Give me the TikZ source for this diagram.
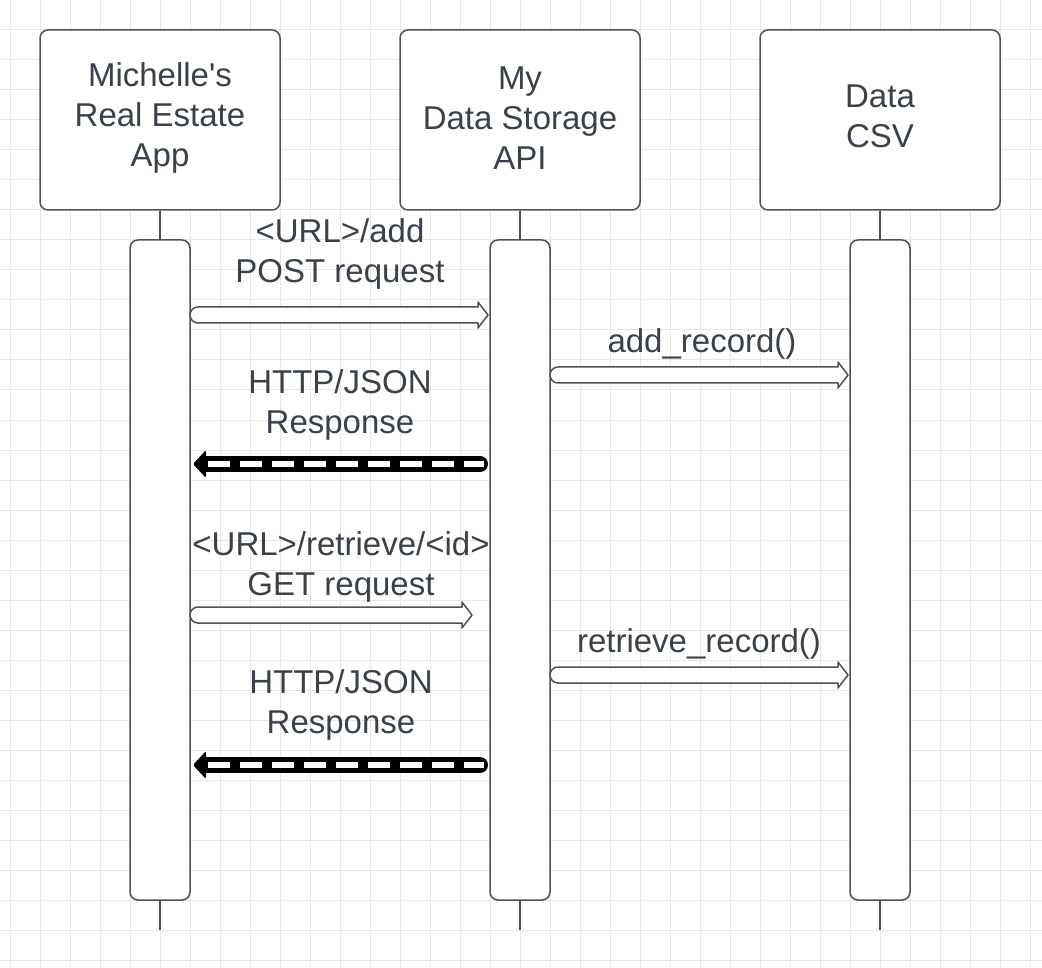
\documentclass[tikz,border=0pt]{standalone}
\usepackage{fontspec}
\setmainfont{Liberation Sans}
\usetikzlibrary{calc}
\definecolor{ln}{HTML}{4D5259}
\definecolor{txt}{HTML}{3A414A}
\definecolor{gridc}{HTML}{E6E6E6}
\tikzset{
  actor/.style={draw=ln, line width=1.5pt, fill=white, rounded corners=8pt,
    minimum width=240pt, minimum height=180pt},
  atext/.style={align=center, text=txt, font=\fontsize{33}{40}\selectfont, inner sep=0pt},
  bar/.style={draw=ln, line width=1.5pt, fill=white, rounded corners=8pt,
    minimum width=60pt, minimum height=660pt},
  life/.style={draw=ln, line width=1.5pt},
  lbl/.style={align=center, text=txt, font=\fontsize{33}{40}\selectfont, inner sep=0pt},
  harr/.style={draw=ln, line width=1.5pt, fill=white, line join=round},
}
\newcommand\harrow[2]{%
  \path[harr] let \p1=(#1), \p2=(#2) in
    (\x2-10pt,\y1+8pt) -- (\x2-10pt,\y1+13pt) -- (\x2,\y1) -- (\x2-10pt,\y1-13pt)
    -- (\x2-10pt,\y1-8pt) -- (\x1+8pt,\y1-8pt)
    arc[start angle=270,end angle=90,radius=8pt] -- cycle;}
\newcommand\darrow[2]{%
  \draw[black, line width=16pt, line cap=round] let \p1=(#1), \p2=(#2) in
    (\x1-8pt,\y1) -- (\x2+12pt,\y1);
  \draw[white, line width=6pt, dash pattern=on 22pt off 10pt] let \p1=(#1), \p2=(#2) in
    (\x2+15pt,\y1) -- (\x1-4pt,\y1);
  \fill[black, rounded corners=1.5pt] let \p1=(#1), \p2=(#2) in
    (\x2,\y1) -- (\x2+13pt,\y1+14pt) -- (\x2+13pt,\y1-14pt) -- cycle;}
\begin{document}
\begin{tikzpicture}[x=1pt,y=-1pt]
\fill[white] (0,0) rectangle (1042,968);
\useasboundingbox (0,0) rectangle (1042,968);
\foreach \gx in {10,40,...,1030} \draw[gridc, line width=1pt] (\gx,0) -- (\gx,968);
\foreach \gy in {0,30,...,960} \draw[gridc, line width=1pt] (0,\gy) -- (1042,\gy);

\node[actor] (a) at (160,120) {};
\node[actor] (b) at (520,120) {};
\node[actor] (c) at (880,120) {};
\node[atext] (at) at (160,118) {Michelle\textquotesingle s\\Real Estate\\App};
\node[atext] (bt) at (520,118) {My\\Data Storage\\API};
\node[atext] (ct) at (880,116) {Data\\CSV};

\node[bar] (ab) at (160,570) {};
\node[bar] (bb) at (520,570) {};
\node[bar] (cb) at (880,570) {};

\coordinate (ae) at (160,930);
\coordinate (be) at (520,930);
\coordinate (ce) at (880,930);
\draw[life] (a.south) -- (ab.north);
\draw[life] (b.south) -- (bb.north);
\draw[life] (c.south) -- (cb.north);
\draw[life] (ab.south) -- (ae);
\draw[life] (bb.south) -- (be);
\draw[life] (cb.south) -- (ce);

% message anchors
\coordinate (m1s) at (190,315); \coordinate (m1e) at (488,315);
\coordinate (m2s) at (550,375); \coordinate (m2e) at (848,375);
\coordinate (m3s) at (488,464); \coordinate (m3e) at (193,464);
\coordinate (m4s) at (190,615); \coordinate (m4e) at (472,615);
\coordinate (m5s) at (550,675); \coordinate (m5e) at (848,675);
\coordinate (m6s) at (488,765); \coordinate (m6e) at (193,765);

\harrow{m1s}{m1e}
\harrow{m2s}{m2e}
\darrow{m3s}{m3e}
\harrow{m4s}{m4e}
\harrow{m5s}{m5e}
\darrow{m6s}{m6e}

\node[lbl] (l1) at (340,254) {<URL>/add\\POST request};
\node[lbl] (l2) at (702,344) {add\_record()};
\node[lbl] (l3) at (340,405) {HTTP/JSON\\Response};
\node[lbl] (l4) at (341,567) {<URL>/retrieve/<id>\\GET request};
\node[lbl] (l5) at (699,644) {retrieve\_record()};
\node[lbl] (l6) at (341,705) {HTTP/JSON\\Response};
\end{tikzpicture}
\end{document}
